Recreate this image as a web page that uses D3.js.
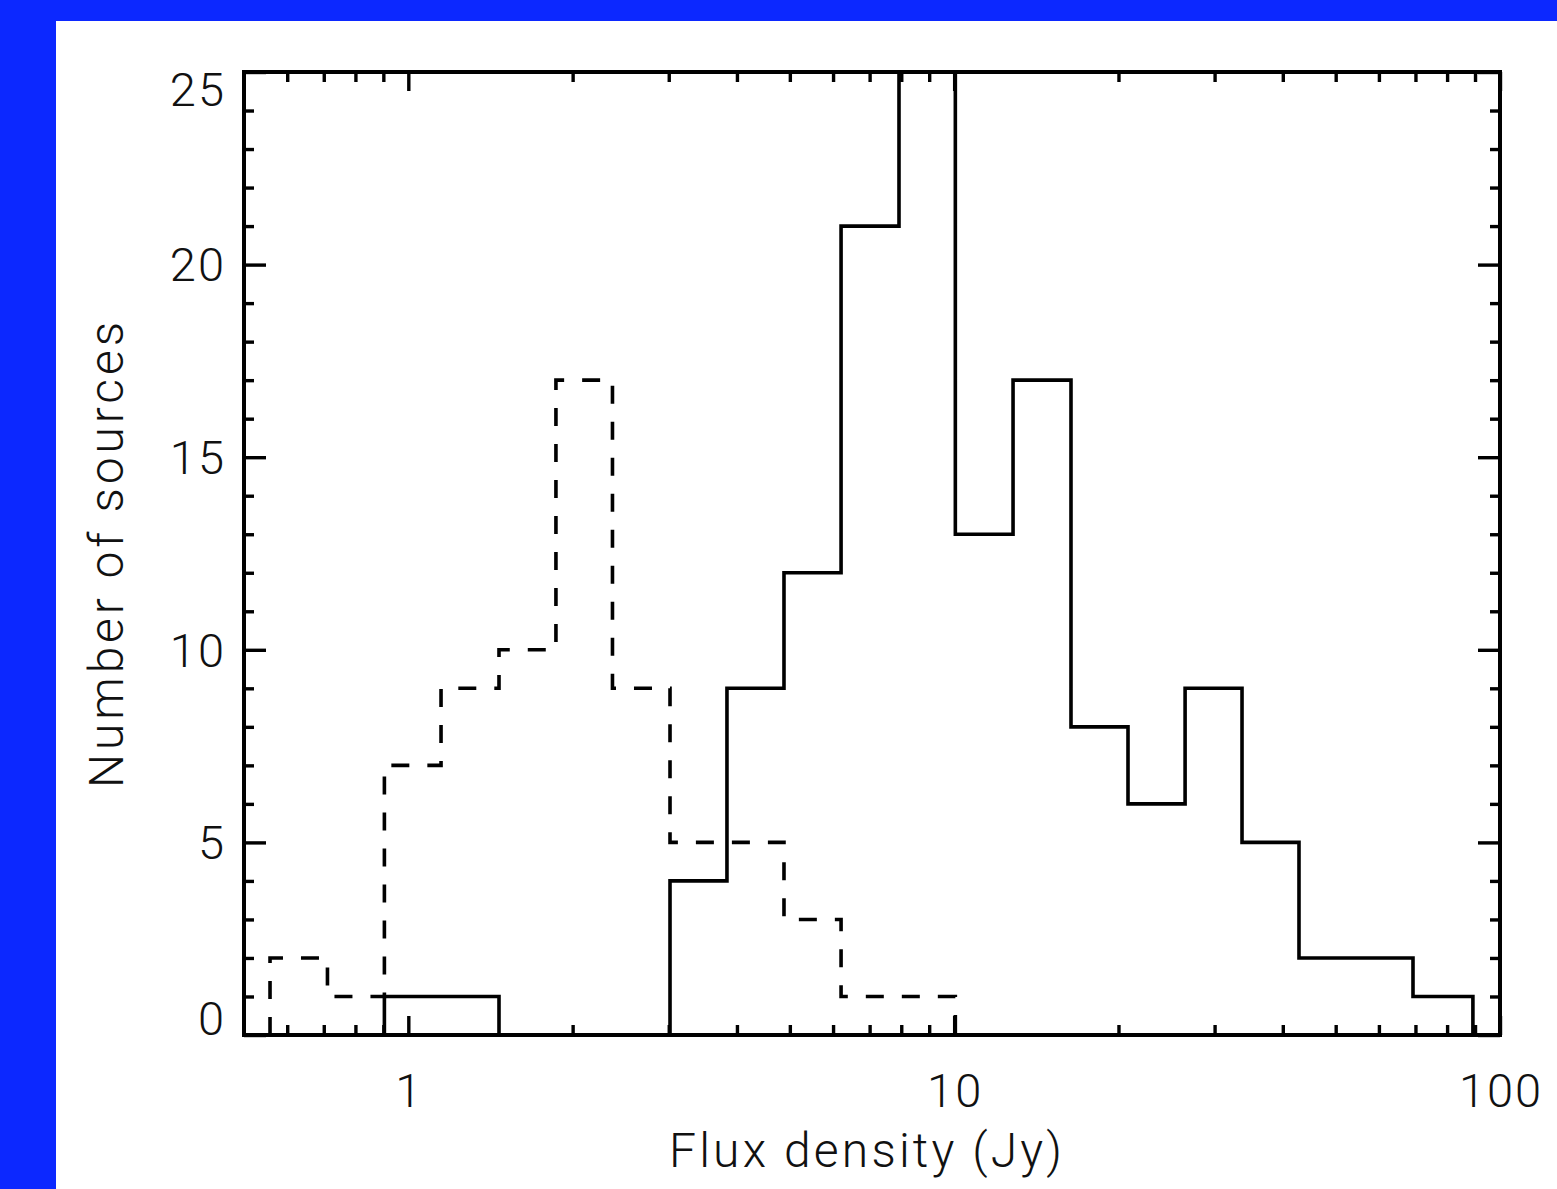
<!DOCTYPE html>
<html>
<head>
<meta charset="utf-8">
<script src="https://cdn.jsdelivr.net/npm/d3@7"></script>
<style>
  html, body { margin: 0; padding: 0; background: #0c28ff; }
  svg { display: block; }
  .lbl { font-family: Roboto, "Liberation Sans", sans-serif; font-weight: 300; fill: #111; }
</style>
</head>
<body>
<svg id="chart" width="1557" height="1189"></svg>
<script>
// ---- data ----
const binEdges = [0.558, 0.711, 0.904, 1.148, 1.466, 1.864, 2.366, 3.016, 3.835, 4.878, 6.206, 7.924,
                  10.05, 12.82, 16.37, 20.82, 26.49, 33.68, 42.83, 54.47, 69.28, 89.2];
const dashedCounts = [2, 1, 7, 9, 10, 17, 9, 5, 5, 3, 1, 1, 0, 0, 0, 0, 0, 0, 0, 0, 0];
const solidCounts  = [0, 0, 1, 1, 0, 0, 0, 4, 9, 12, 21, 25, 13, 17, 8, 6, 9, 5, 2, 2, 1];
const xMajorTicks = [1, 10, 100];
const xMinorTicks = [0.6, 0.7, 0.8, 0.9, 2, 3, 4, 5, 6, 7, 8, 9, 20, 30, 40, 50, 60, 70, 80, 90];
const xTickLabels = ["1", "10", "100"];
const yMajorTicks = [0, 5, 10, 15, 20, 25];
const yMinorTicks = [1,2,3,4,6,7,8,9,11,12,13,14,16,17,18,19,21,22,23,24];
const yTickLabels = ["0", "5", "10", "15", "20", "25"];
const xTitle = "Flux density (Jy)";
const yTitle = "Number of sources";

// ---- layout ----
const W = 1557, H = 1189;
const L = 244, R = 1500, T = 72, B = 1035;

const svg = d3.select("#chart");
svg.append("rect").attr("x", 0).attr("y", 0).attr("width", W).attr("height", H).attr("fill", "#0c28ff");
svg.append("rect").attr("x", 56).attr("y", 21).attr("width", W - 56).attr("height", H - 21).attr("fill", "#ffffff");

const x = d3.scaleLog().domain([0.5, 100]).range([L, R]);
const y = d3.scaleLinear().domain([0, 25]).range([B, T]);

// ---- histogram step lines ----
function stepPath(counts) {
  let i0 = counts.findIndex(c => c > 0);
  let i1 = counts.length - 1;
  while (i1 > 0 && counts[i1] === 0) i1--;
  const pts = [[binEdges[i0], 0]];
  for (let i = i0; i <= i1; i++) {
    pts.push([binEdges[i], counts[i]]);
    pts.push([binEdges[i + 1], counts[i]]);
  }
  pts.push([binEdges[i1 + 1], 0]);
  return d3.line().x(d => x(d[0])).y(d => y(d[1]))(pts);
}

svg.append("path").attr("d", stepPath(dashedCounts))
  .attr("fill", "none").attr("stroke", "#000").attr("stroke-width", 3.6)
  .attr("stroke-dasharray", "18,18").attr("stroke-linejoin", "miter");
svg.append("path").attr("d", stepPath(solidCounts))
  .attr("fill", "none").attr("stroke", "#000").attr("stroke-width", 3.6)
  .attr("stroke-linejoin", "miter");

// ---- axes (ticks pointing inward) ----
function styleAxis(g) {
  g.select(".domain").remove();
  g.selectAll(".tick line").attr("stroke", "#000").attr("stroke-width", 3.4);
}
// bottom
svg.append("g").attr("transform", `translate(0,${B})`)
  .call(d3.axisBottom(x).tickValues(xMajorTicks).tickSize(-19).tickFormat(""))
  .call(styleAxis);
svg.append("g").attr("transform", `translate(0,${B})`)
  .call(d3.axisBottom(x).tickValues(xMinorTicks).tickSize(-10).tickFormat(""))
  .call(styleAxis);
// top
svg.append("g").attr("transform", `translate(0,${T})`)
  .call(d3.axisTop(x).tickValues(xMajorTicks).tickSize(-19).tickFormat(""))
  .call(styleAxis);
svg.append("g").attr("transform", `translate(0,${T})`)
  .call(d3.axisTop(x).tickValues(xMinorTicks).tickSize(-10).tickFormat(""))
  .call(styleAxis);
// left
svg.append("g").attr("transform", `translate(${L},0)`)
  .call(d3.axisLeft(y).tickValues(yMajorTicks).tickSize(-22).tickFormat(""))
  .call(styleAxis);
svg.append("g").attr("transform", `translate(${L},0)`)
  .call(d3.axisLeft(y).tickValues(yMinorTicks).tickSize(-10).tickFormat(""))
  .call(styleAxis);
// right
svg.append("g").attr("transform", `translate(${R},0)`)
  .call(d3.axisRight(y).tickValues(yMajorTicks).tickSize(-22).tickFormat(""))
  .call(styleAxis);
svg.append("g").attr("transform", `translate(${R},0)`)
  .call(d3.axisRight(y).tickValues(yMinorTicks).tickSize(-10).tickFormat(""))
  .call(styleAxis);

// frame
svg.append("rect").attr("x", L).attr("y", T).attr("width", R - L).attr("height", B - T)
  .attr("fill", "none").attr("stroke", "#000").attr("stroke-width", 4);

// ---- tick labels ----
const FS = 47, CAP = 33.5;
svg.append("g").selectAll("text").data(yMajorTicks).join("text")
  .attr("class", "lbl")
  .attr("font-size", FS)
  .attr("letter-spacing", 2)
  .attr("text-anchor", "end")
  .attr("x", 226)
  .attr("y", (d, i) => {
    if (d === 25) return T + CAP;
    if (d === 0) return B;
    return y(d) + CAP / 2;
  })
  .text((d, i) => yTickLabels[i]);

svg.append("g").selectAll("text").data(xMajorTicks).join("text")
  .attr("class", "lbl")
  .attr("font-size", FS)
  .attr("letter-spacing", 2)
  .attr("text-anchor", "middle")
  .attr("x", d => x(d) + 1)
  .attr("y", 1107)
  .text((d, i) => xTickLabels[i]);

// ---- axis titles ----
svg.append("text").attr("class", "lbl")
  .attr("font-size", FS + 1)
  .attr("x", 669).attr("y", 1167)
  .attr("textLength", 393).attr("lengthAdjust", "spacing")
  .text(xTitle);

svg.append("text").attr("class", "lbl")
  .attr("font-size", FS + 1)
  .attr("transform", "translate(123,788) rotate(-90)")
  .attr("x", 0).attr("y", 0)
  .attr("textLength", 466).attr("lengthAdjust", "spacing")
  .text(yTitle);
</script>
</body>
</html>
